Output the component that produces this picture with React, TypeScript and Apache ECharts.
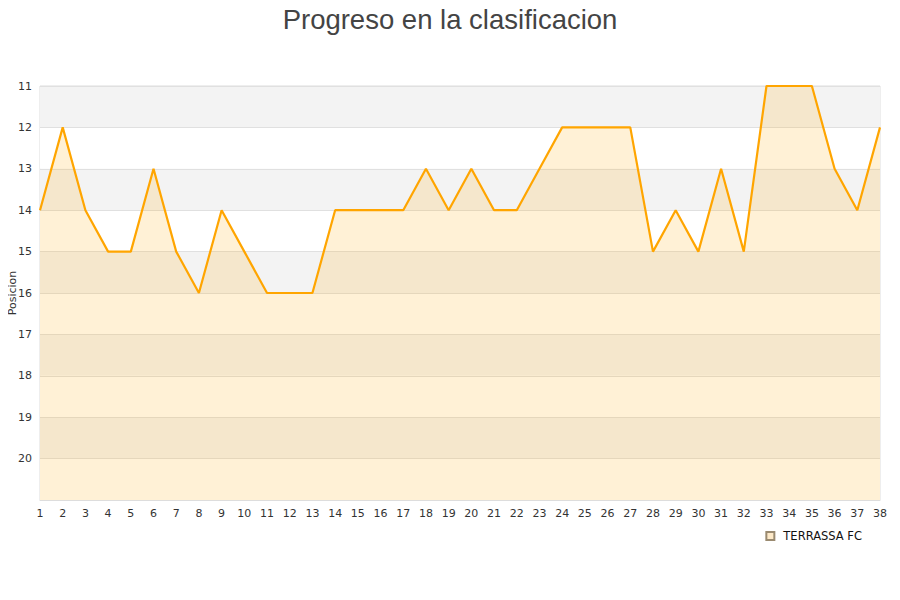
import React, { useEffect, useRef } from "react";
import * as echarts from "echarts";

const rounds: string[] = Array.from({ length: 38 }, (_, i) => String(i + 1));
const positions: number[] = [
  14, 12, 14, 15, 15, 13, 15, 16, 14, 15,
  16, 16, 16, 14, 14, 14, 14, 13, 14, 13,
  14, 14, 13, 12, 12, 12, 12, 15, 14, 15,
  13, 15, 11, 11, 11, 13, 14, 12,
];
const teamName = "TERRASSA FC";
const titleText = "Progreso en la clasificacion";
const yName = "Posicion";

export default function App() {
  const ref = useRef<HTMLDivElement>(null);
  useEffect(() => {
    if (!ref.current) return;
    const chart = echarts.init(ref.current, undefined, { renderer: "svg" });
    chart.setOption({
      animation: false,
      backgroundColor: "#ffffff",
      title: {
        text: titleText,
        left: "center",
        top: 0,
        padding: 5,
        textStyle: {
          fontFamily: "Liberation Sans",
          fontSize: 27.5,
          fontWeight: "normal",
          color: "#444444",
        },
      },
      legend: {
        data: [teamName],
        right: 33,
        top: 525,
        icon: "rect",
        itemWidth: 8,
        itemHeight: 8,
        itemGap: 10,
        textStyle: {
          fontFamily: "DejaVu Sans",
          fontSize: 11.5,
          color: "#111",
          padding: [0, 0, 0, 4],
        },
      },
      grid: {
        left: 40,
        right: 20,
        top: 86,
        bottom: 100,
        outerBoundsMode: "none",
        containLabel: false,
        show: true,
        borderColor: "#dddddd",
        borderWidth: 1,
        backgroundColor: "transparent",
      },
      xAxis: {
        type: "category",
        data: rounds,
        boundaryGap: false,
        axisLine: { show: true, lineStyle: { color: "#dddddd" } },
        axisTick: { show: false },
        splitLine: { show: false },
        axisLabel: {
          interval: 0,
          fontFamily: "DejaVu Sans",
          fontSize: 11,
          color: "#333",
          margin: 8,
        },
      },
      yAxis: {
        type: "value",
        inverse: true,
        min: 11,
        max: 21,
        interval: 1,
        name: yName,
        nameLocation: "middle",
        nameGap: 22,
        nameRotate: 90,
        nameMoveOverlap: false,
        nameTextStyle: { fontFamily: "DejaVu Sans", fontSize: 11, color: "#333" },
        axisLine: { show: false },
        axisTick: { show: false },
        axisLabel: {
          fontFamily: "DejaVu Sans",
          fontSize: 11,
          color: "#333",
          margin: 8,
          formatter: (v: number) => (v === 21 ? "" : String(v)),
        },
        splitLine: { show: true, lineStyle: { color: "#e0e0e0", width: 1 } },
        splitArea: { show: true, areaStyle: { color: ["#f3f3f3", "#ffffff"] } },
      },
      series: [
        {
          name: teamName,
          type: "line",
          data: positions,
          symbol: "none",
          lineStyle: { color: "#ffa500", width: 2.2 },
          itemStyle: { color: "#fde9c8", borderColor: "#9a8a70", borderWidth: 1 },
          areaStyle: { origin: "end", color: "rgba(255,165,0,0.23)" },
        },
      ],
    });
    return () => chart.dispose();
  }, []);
  return <div ref={ref} style={{ width: 900, height: 600, margin: -8 }} />;
}
